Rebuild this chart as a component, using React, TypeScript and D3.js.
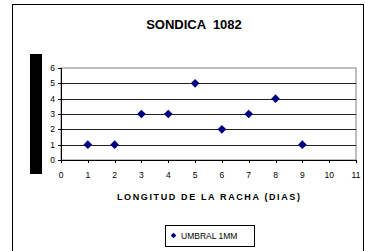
import React from 'react';
import * as d3 from 'd3';

const xTicks = [0, 1, 2, 3, 4, 5, 6, 7, 8, 9, 10, 11];
const yTicks = [0, 1, 2, 3, 4, 5, 6];
const rachaDias = [1, 2, 3, 4, 5, 6, 7, 8, 9];
const umbral1mm = [1, 1, 3, 3, 5, 2, 3, 4, 1];

const W = 365;
const H = 251;
const font = 'Arial, "Liberation Sans", sans-serif';

const App: React.FC = () => {
  const x = d3.scaleLinear().domain([0, 11]).range([61, 356]);
  const y = d3.scaleLinear().domain([0, 6]).range([160, 68]);
  // excel style diamond: a square turned 45 degrees
  const diamond = d3.symbol().type(d3.symbolSquare).size(38);
  const diamondSmall = d3.symbol().type(d3.symbolSquare).size(16);

  return (
    <svg width={W} height={H} style={{ position: 'absolute', left: 0, top: 0, background: '#fff' }}>
      {/* outer chart frame */}
      <rect x={12.5} y={4.5} width={351} height={260} fill="#fff" stroke="#000" strokeWidth={1} />

      <text x={194} y={29} textAnchor="middle" fontFamily={font} fontWeight="bold" fontSize={13}
        style={{ whiteSpace: 'pre' }}>
        {'SONDICA  1082'}
      </text>

      {/* black bar where the y-axis title should be */}
      <rect x={30} y={54} width={12} height={120} fill="#000" />

      {/* plot area frame */}
      <rect x={x(0)} y={y(6)} width={x(11) - x(0)} height={y(0) - y(6)} fill="none" stroke="#808080" />

      {/* gridlines */}
      {yTicks.filter(t => t > 0 && t < 6).map(t => (
        <line key={t} x1={x(0)} x2={x(11)} y1={Math.round(y(t)) + 0.5} y2={Math.round(y(t)) + 0.5}
          stroke="#222" strokeWidth={1} />
      ))}

      {/* y axis */}
      <line x1={x(0) + 0.5} x2={x(0) + 0.5} y1={y(6)} y2={y(0)} stroke="#000" />
      {yTicks.map(t => (
        <g key={t}>
          <line x1={x(0) - 3} x2={x(0)} y1={Math.round(y(t)) + 0.5} y2={Math.round(y(t)) + 0.5} stroke="#000" />
          <text x={x(0) - 6} y={y(t) + 3} textAnchor="end" fontFamily={font} fontSize={8.5}>{t}</text>
        </g>
      ))}

      {/* x axis */}
      <line x1={x(0)} x2={x(11)} y1={y(0) + 0.5} y2={y(0) + 0.5} stroke="#000" />
      {xTicks.map(t => (
        <g key={t}>
          <line x1={Math.round(x(t)) + 0.5} x2={Math.round(x(t)) + 0.5} y1={y(0)} y2={y(0) + 3} stroke="#000" />
          <text x={x(t)} y={y(0) + 18} textAnchor="middle" fontFamily={font} fontSize={8.5}>{t}</text>
        </g>
      ))}

      <text x={117} y={200} fontFamily={font} fontWeight="bold" fontSize={9}
        textLength={183} lengthAdjust="spacing">
        LONGITUD DE LA RACHA (DIAS)
      </text>

      {/* series */}
      {rachaDias.map((d, i) => (
        <path key={d} d={diamond()!} transform={`translate(${x(d)},${y(umbral1mm[i])}) rotate(45)`} fill="#000080" />
      ))}

      {/* legend */}
      <rect x={165.5} y={225.5} width={89} height={21} fill="#fff" stroke="#000" />
      <path d={diamondSmall()!} transform="translate(173.5,235.5) rotate(45)" fill="#000080" />
      <text x={181} y={239} fontFamily={font} fontSize={8.5}>UMBRAL 1MM</text>
    </svg>
  );
};

export default App;
